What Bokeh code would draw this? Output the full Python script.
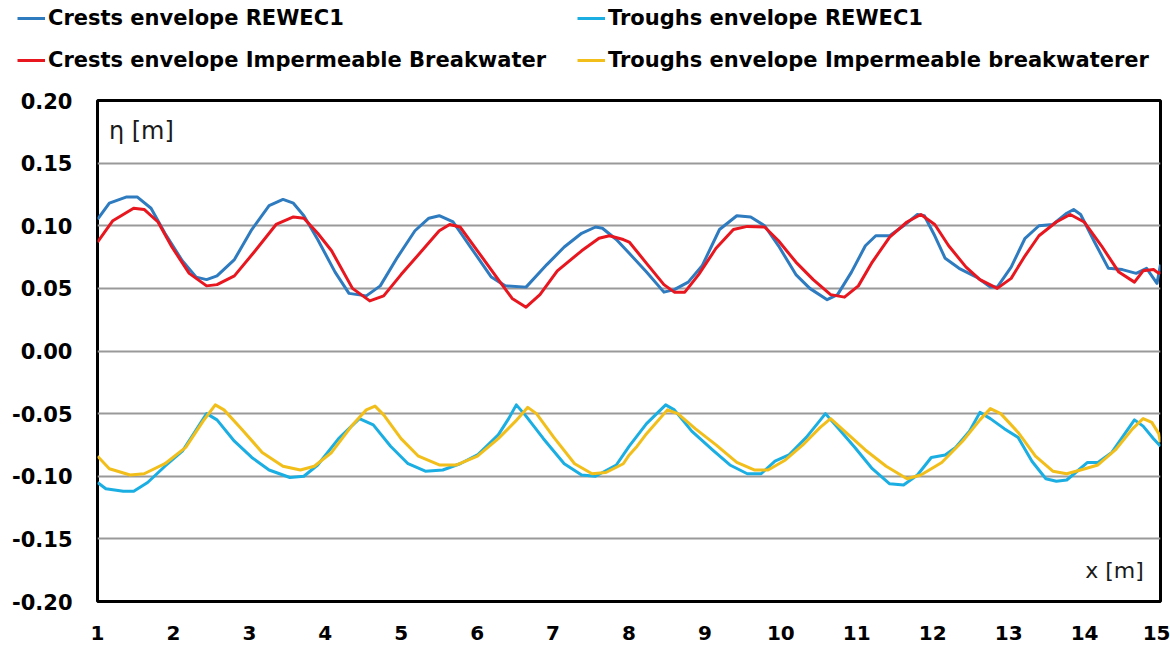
from bokeh.plotting import figure
from bokeh.layouts import column
from bokeh.models import Legend, LegendItem, Label, FixedTicker, NumeralTickFormatter, Range1d
from bokeh.embed import file_html
from bokeh.resources import INLINE

# ---------------- data ----------------
x_ticks = list(range(1, 16))
y_ticks = [-0.20, -0.15, -0.10, -0.05, 0.00, 0.05, 0.10, 0.15, 0.20]

crest_rewec_x = [1.0, 1.156, 1.385, 1.522, 1.705, 1.888, 2.117, 2.30, 2.437, 2.574, 2.803, 3.032, 3.26, 3.443,
                 3.58, 3.718, 3.90, 4.129, 4.312, 4.54, 4.724, 4.952, 5.181, 5.364, 5.501, 5.684, 5.913, 6.187,
                 6.37, 6.644, 6.918, 7.147, 7.376, 7.559, 7.65, 7.833, 8.003, 8.231, 8.46, 8.597, 8.78, 8.963,
                 9.192, 9.42, 9.603, 9.786, 9.969, 10.198, 10.381, 10.61, 10.747, 10.93, 11.113, 11.25, 11.433,
                 11.616, 11.799, 11.89, 12.027, 12.164, 12.347, 12.576, 12.759, 12.85, 13.033, 13.216, 13.399,
                 13.582, 13.765, 13.856, 13.948, 14.131, 14.314, 14.497, 14.68, 14.817, 14.954, 15.0]
crest_rewec_y = [0.105, 0.118, 0.123, 0.123, 0.114, 0.094, 0.072, 0.059, 0.057, 0.060, 0.073, 0.097, 0.116, 0.121,
                 0.118, 0.108, 0.089, 0.063, 0.046, 0.044, 0.052, 0.075, 0.096, 0.106, 0.108, 0.103, 0.083, 0.059,
                 0.052, 0.051, 0.069, 0.083, 0.094, 0.099, 0.098, 0.089, 0.078, 0.063, 0.047, 0.049, 0.055, 0.068,
                 0.097, 0.108, 0.107, 0.100, 0.084, 0.061, 0.050, 0.041, 0.045, 0.063, 0.084, 0.092, 0.092,
                 0.100, 0.109, 0.108, 0.092, 0.074, 0.066, 0.059, 0.051, 0.051, 0.067, 0.090, 0.100,
                 0.101, 0.110, 0.113, 0.109, 0.087, 0.066, 0.065, 0.062, 0.066, 0.054, 0.069]

crest_imp_x = [1.0, 1.202, 1.476, 1.614, 1.797, 1.98, 2.208, 2.437, 2.574, 2.803, 3.077, 3.352, 3.58, 3.718,
               3.90, 4.083, 4.358, 4.586, 4.769, 4.998, 5.272, 5.501, 5.638, 5.775, 6.004, 6.279, 6.461, 6.644,
               6.827, 7.056, 7.376, 7.605, 7.742, 7.925, 8.003, 8.231, 8.46, 8.597, 8.735, 8.917, 9.146, 9.375,
               9.558, 9.786, 9.969, 10.198, 10.426, 10.655, 10.838, 11.021, 11.204, 11.433, 11.661, 11.844,
               12.027, 12.21, 12.439, 12.622, 12.85, 13.033, 13.216, 13.399, 13.628, 13.811, 13.994, 14.222,
               14.451, 14.657, 14.771, 14.908, 14.977, 15.0]
crest_imp_y = [0.087, 0.104, 0.114, 0.113, 0.103, 0.083, 0.062, 0.052, 0.053, 0.060, 0.080, 0.101, 0.107, 0.106,
               0.094, 0.080, 0.050, 0.040, 0.044, 0.061, 0.080, 0.096, 0.101, 0.099, 0.080, 0.057, 0.042, 0.035,
               0.045, 0.064, 0.080, 0.090, 0.092, 0.089, 0.087, 0.070, 0.053, 0.047, 0.047, 0.061, 0.082, 0.097,
               0.0995, 0.099, 0.088, 0.071, 0.057, 0.045, 0.043, 0.052, 0.071, 0.091, 0.103, 0.109,
               0.101, 0.084, 0.067, 0.057, 0.050, 0.058, 0.076, 0.092, 0.103, 0.109, 0.103, 0.084,
               0.063, 0.055, 0.064, 0.065, 0.062, 0.063]

trough_rewec_x = [1.0, 1.11, 1.34, 1.477, 1.66, 1.888, 2.117, 2.30, 2.437, 2.574, 2.803, 3.032, 3.26, 3.534,
                  3.718, 3.90, 4.175, 4.449, 4.632, 4.86, 5.09, 5.318, 5.547, 5.775, 6.004, 6.278, 6.415, 6.516,
                  6.644, 6.873, 7.147, 7.376, 7.559, 7.833, 8.003, 8.231, 8.483, 8.597, 8.826, 9.10, 9.329, 9.558,
                  9.74, 9.923, 10.106, 10.335, 10.495, 10.587, 10.747, 10.975, 11.204, 11.433, 11.616, 11.799,
                  11.981, 12.164, 12.302, 12.484, 12.622, 12.759, 12.942, 13.125, 13.307, 13.49, 13.628, 13.765,
                  13.902, 14.039, 14.176, 14.359, 14.542, 14.657, 14.771, 14.908, 15.0]
trough_rewec_y = [-0.105, -0.110, -0.112, -0.112, -0.105, -0.092, -0.080, -0.063, -0.050, -0.055, -0.072, -0.085,
                  -0.095, -0.101, -0.100, -0.091, -0.070, -0.054, -0.059, -0.076, -0.090, -0.096, -0.095, -0.090,
                  -0.083, -0.067, -0.054, -0.043, -0.052, -0.070, -0.090, -0.099, -0.100, -0.091, -0.076, -0.058,
                  -0.043, -0.047, -0.064, -0.079, -0.091, -0.098, -0.098, -0.088, -0.083, -0.069, -0.057, -0.050,
                  -0.061, -0.077, -0.094, -0.106, -0.107, -0.099, -0.085, -0.083, -0.077, -0.064, -0.049, -0.054,
                  -0.062, -0.069, -0.088, -0.102, -0.104, -0.103, -0.096, -0.089, -0.089, -0.081, -0.065, -0.055,
                  -0.060, -0.070, -0.076]

trough_imp_x = [1.0, 1.156, 1.43, 1.614, 1.888, 2.162, 2.391, 2.551, 2.666, 2.894, 3.169, 3.443, 3.672, 3.855,
                4.083, 4.358, 4.54, 4.655, 4.769, 4.998, 5.227, 5.501, 5.73, 6.004, 6.278, 6.507, 6.667, 6.781,
                7.01, 7.284, 7.513, 7.696, 7.925, 8.003, 8.107, 8.231, 8.506, 8.643, 8.872, 9.146, 9.42, 9.649,
                9.832, 10.06, 10.289, 10.518, 10.655, 10.838, 11.112, 11.387, 11.661, 11.844, 12.119, 12.393,
                12.622, 12.759, 12.896, 13.125, 13.353, 13.582, 13.765, 13.948, 14.176, 14.405, 14.634, 14.771,
                14.885, 14.977, 15.0]
trough_imp_y = [-0.084, -0.094, -0.099, -0.098, -0.090, -0.077, -0.056, -0.043, -0.047, -0.062, -0.081, -0.092,
                -0.095, -0.092, -0.081, -0.059, -0.047, -0.044, -0.051, -0.070, -0.084, -0.091, -0.091, -0.084,
                -0.070, -0.056, -0.045, -0.050, -0.069, -0.090, -0.098, -0.097, -0.090, -0.083, -0.076, -0.066,
                -0.047, -0.050, -0.062, -0.075, -0.089, -0.095, -0.095, -0.087, -0.075, -0.061, -0.054, -0.064,
                -0.079, -0.092, -0.102, -0.099, -0.089, -0.072, -0.055, -0.046, -0.050, -0.065, -0.084, -0.096,
                -0.098, -0.095, -0.091, -0.079, -0.062, -0.054, -0.057, -0.066, -0.073]

series_labels = ["Crests envelope REWEC1", "Troughs envelope REWEC1",
                 "Crests envelope Impermeable Breakwater", "Troughs envelope Impermeable breakwaterer"]
series_colors = ["#2E7BC0", "#1BAEE2", "#E8161E", "#F2BE1A"]
series_x = [crest_rewec_x, trough_rewec_x, crest_imp_x, trough_imp_x]
series_y = [crest_rewec_y, trough_rewec_y, crest_imp_y, trough_imp_y]

FONT = "DejaVu Sans"
W = 1170
LEG_H = 86
MAIN_H = 645 - LEG_H

# ---------------- main chart ----------------
p = figure(width=W, height=MAIN_H, output_backend="svg", toolbar_location=None,
           x_range=Range1d(1, 15), y_range=Range1d(-0.2, 0.2),
           min_border_left=97, min_border_right=10, min_border_top=14, min_border_bottom=44)
p.frame_align = False
p.background_fill_color = "white"
p.border_fill_color = "white"
p.outline_line_color = "black"
p.outline_line_width = 3

p.xaxis.ticker = FixedTicker(ticks=x_ticks)
p.yaxis.ticker = FixedTicker(ticks=y_ticks)
p.yaxis.formatter = NumeralTickFormatter(format="0.00")
for ax in (p.xaxis[0], p.yaxis[0]):
    ax.axis_line_color = None
    ax.major_tick_line_color = None
    ax.minor_tick_line_color = None
    ax.major_label_text_font = FONT
    ax.major_label_text_font_style = "bold"
    ax.major_label_text_color = "black"
p.yaxis.major_label_text_font_size = "21px"
p.xaxis.major_label_text_font_size = "20px"
p.yaxis.major_label_standoff = 19
p.xaxis.major_label_standoff = 18

p.xgrid.grid_line_color = None
p.ygrid.grid_line_color = "#999999"
p.ygrid.grid_line_width = 2

draw_order = [0, 2, 1, 3]
for i in draw_order:
    p.line(series_x[i], series_y[i], line_color=series_colors[i], line_width=3, line_join="round")

p.add_layout(Label(x=1.15, y=0.176, text="η [m]", text_font=FONT, text_font_size="24px",
                   text_color="#1a1a1a", text_baseline="middle", text_align="left"))
p.add_layout(Label(x=14.78, y=-0.175, text="x [m]", text_font=FONT, text_font_size="22px",
                   text_color="#1a1a1a", text_baseline="middle", text_align="right"))

# ---------------- legend strip (same series, legend only) ----------------
lf = figure(width=W, height=LEG_H, output_backend="svg", toolbar_location=None,
            x_range=Range1d(-3, -2), y_range=Range1d(-0.2, 0.2),
            x_axis_location=None, y_axis_location=None,
            min_border_left=0, min_border_right=0, min_border_top=0, min_border_bottom=0)
lf.frame_align = False
lf.outline_line_color = None
lf.grid.grid_line_color = None
lf.background_fill_color = "white"
lf.border_fill_color = "white"
leg_renderers = [lf.line(series_x[i], series_y[i], line_color=series_colors[i], line_width=3)
                 for i in range(4)]


def make_legend(idx, loc):
    return Legend(items=[LegendItem(label=series_labels[i], renderers=[leg_renderers[i]]) for i in idx],
                  location=loc, orientation="vertical",
                  glyph_width=28, glyph_height=24, label_height=24, spacing=18,
                  padding=0, margin=0, label_standoff=3,
                  border_line_color=None, background_fill_alpha=0,
                  label_text_font=FONT, label_text_font_style="bold",
                  label_text_font_size="21px", label_text_color="black")


lf.add_layout(make_legend([0, 2], (17, LEG_H - 66 - 6)))
lf.add_layout(make_legend([1, 3], (577, LEG_H - 66 - 6)))

layout = column(lf, p, spacing=0)
open("out.html", "w").write(file_html(layout, INLINE))
